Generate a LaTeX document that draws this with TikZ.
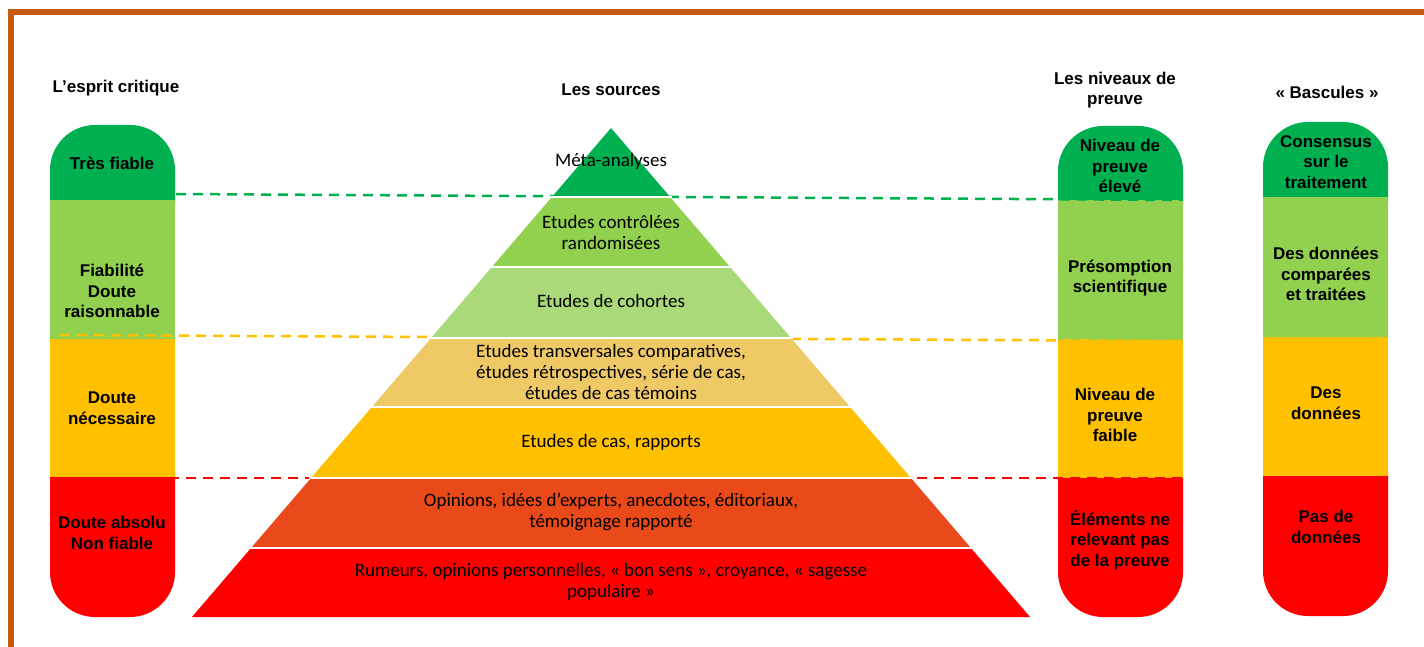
\documentclass[tikz,border=0pt]{standalone}
\usepackage{fontspec}
\setmainfont{Liberation Sans}
\newfontfamily\calibri{Carlito}
\usetikzlibrary{positioning}
\definecolor{frameorange}{HTML}{C55A11}
\definecolor{dkgreen}{HTML}{00B050}
\definecolor{ltgreen}{HTML}{92D050}
\definecolor{palegreen}{HTML}{A9D978}
\definecolor{sand}{HTML}{EFC966}
\definecolor{amber}{HTML}{FFC000}
\definecolor{redorange}{HTML}{EA4A19}
\definecolor{pure red}{HTML}{FF0000}

\begin{document}
\begin{tikzpicture}
[x=1pt,y=-1pt,
head/.style={font=\fontsize{17}{20}\selectfont\bfseries,align=center,inner sep=0pt},
lbl/.style={font=\fontsize{17}{20.5}\selectfont\bfseries,align=center,inner sep=0pt},
src/.style={font=\calibri\fontsize{19}{21}\selectfont,align=center,inner sep=0pt},
level/.style={line width=2.5pt,dash pattern=on 10pt off 7pt}]
\useasboundingbox (0,0) rectangle (1424,647);
% frame
\draw[frameorange,line width=5.5pt] (11,647) -- (11,12) -- (1424,12);

% capsules
\foreach \xl/\yt/\ya/\yb/\yc/\yd in {50/125/200/339/477/617,1058/126/200/340/478/617,1263/122/197/337/476/616}{
\fill[dkgreen,rounded corners=45pt] (\xl,\yt) rectangle ({\xl+125},{\ya+50});
\fill[pure red,rounded corners=45pt] (\xl,{\yc-50}) rectangle ({\xl+125},\yd);
\fill[ltgreen] (\xl,\ya) rectangle ({\xl+125},\yb);
\fill[amber] (\xl,\yb) rectangle ({\xl+125},\yc);
}

% dashed levels
\coordinate (g1) at (176,194);
\coordinate (g2) at (1183,200);
\coordinate (y1) at (60,335);
\coordinate (y2) at (1183,341);
\coordinate (r1) at (50,478);
\coordinate (r2) at (1183,478);
\draw[level,dkgreen] (g1) -- (g2);
\draw[level,amber] (y1) -- (y2);
\draw[level,pure red] (r1) -- (r2);

% pyramid
\foreach \ya/\yb/\col in {128/197/dkgreen,197/267/ltgreen,267/338/palegreen,338/407/sand,407/478/amber,478/548/redorange,548/617/pure red}
\fill[\col] ({611-0.857*(\ya-128)},\ya) -- ({611+0.857*(\ya-128)},\ya)
 -- ({611+0.857*(\yb-128)},\yb) -- ({611-0.857*(\yb-128)},\yb) -- cycle;
\foreach \y in {197,267,338,407,478,548}
\draw[white,line width=1.5pt] ({611-0.857*(\y-128)-2},\y) -- ({611+0.857*(\y-128)+2},\y);

% headings
\node[head] (hdcrit) at (116,88) {L’esprit critique};
\node[head] (hdsrc) at (611,90) {Les sources};
\node[head] (hdniv) at (1115,90) {Les niveaux de\\preuve};
\node[head] (hdbasc) at (1327,92) {«~Bascules~»};

% esprit critique
\node[lbl] (c1) at (112,163) {Très fiable};
\node[lbl] (c2) at (112,291) {Fiabilité\\Doute\\raisonnable};
\node[lbl] (c3) at (112,408) {Doute\\nécessaire};
\node[lbl] (c4) at (112,533) {Doute absolu\\Non fiable};

% niveaux de preuve
\node[lbl] (n1) at (1120,166) {Niveau de\\preuve\\élevé};
\node[lbl] (n2) at (1120,278) {Présomption\\scientifique};
\node[lbl] (n3) at (1115,415) {Niveau de\\preuve\\faible};
\node[lbl] (n4) at (1120,540) {Éléments ne\\relevant pas\\de la preuve};

% bascules
\node[lbl] (b1) at (1326,162) {Consensus\\sur le\\traitement};
\node[lbl] (b2) at (1326,274) {Des données\\comparées\\et traitées};
\node[lbl] (b3) at (1326,403) {Des\\données};
\node[lbl] (b4) at (1326,527) {Pas de\\données};

% sources
\node[src] (p1) at (611,161) {Méta-analyses};
\node[src] (p2) at (611,232) {Etudes contrôlées\\randomisées};
\node[src] (p3) at (611,301) {Etudes de cohortes};
\node[src] (p4) at (611,372) {Etudes transversales comparatives,\\études rétrospectives, série de cas,\\études de cas témoins};
\node[src] (p5) at (611,442) {Etudes de cas, rapports};
\node[src] (p6) at (611,512) {Opinions, idées d’experts, anecdotes, éditoriaux,\\témoignage rapporté};
\node[src] (p7) at (611,582) {Rumeurs, opinions personnelles, «~bon sens~», croyance, «~sagesse\\populaire~»};
\end{tikzpicture}
\end{document}
